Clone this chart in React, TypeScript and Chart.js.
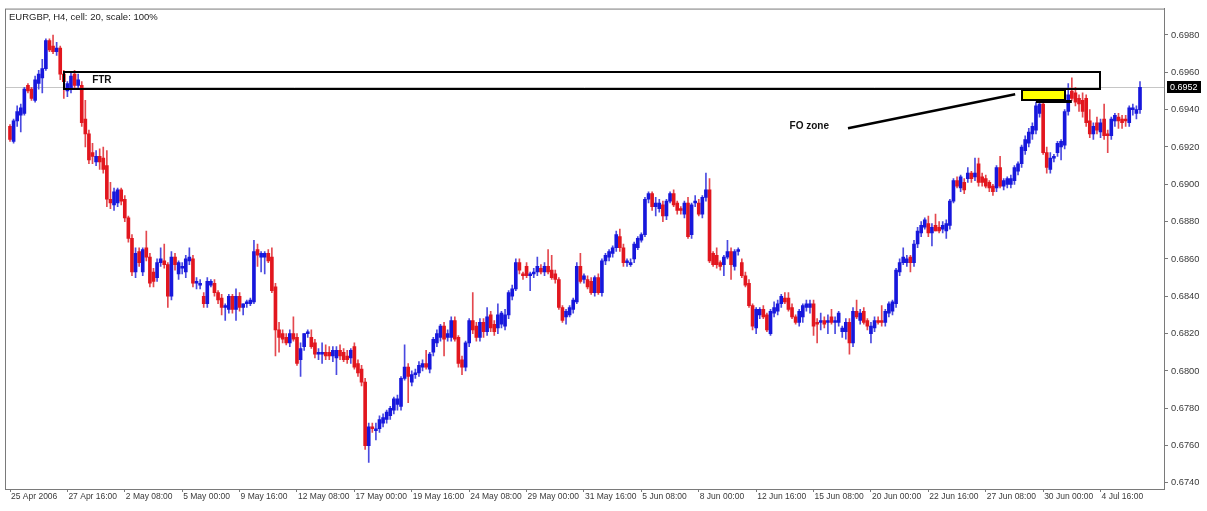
import React, { useEffect, useRef } from "react";
import { Chart, registerables } from "chart.js";

Chart.register(...registerables);

// ---------- data (EURGBP, H4) ----------
const xTickIndices = [0, 16, 32, 48, 64, 80, 96, 112, 128, 144, 160, 176, 192, 208, 224, 240, 256, 272, 288, 304];
const xTickLabels = [
  "25 Apr 2006", "27 Apr 16:00", "2 May 08:00", "5 May 00:00", "9 May 16:00",
  "12 May 08:00", "17 May 00:00", "19 May 16:00", "24 May 08:00", "29 May 00:00",
  "31 May 16:00", "5 Jun 08:00", "8 Jun 00:00", "12 Jun 16:00", "15 Jun 08:00",
  "20 Jun 00:00", "22 Jun 16:00", "27 Jun 08:00", "30 Jun 00:00", "4 Jul 16:00",
];
const yTickValues = [0.674, 0.676, 0.678, 0.68, 0.682, 0.684, 0.686, 0.688, 0.69, 0.692, 0.694, 0.696, 0.698];

const opens = [
  0.6931,0.6923,0.6934,0.6937,0.6938,0.6953,0.6951,0.6945,0.6954,0.6957,
  0.6962,0.6977,0.6974,0.6971,0.6973,0.6959,0.6950,0.6951,0.6959,0.6953,
  0.6953,0.6935,0.6927,0.6917,0.6912,0.6915,0.6914,0.6910,0.6892,0.6889,
  0.6890,0.6897,0.6892,0.6882,0.6871,0.6853,0.6864,0.6853,0.6866,0.6861,
  0.6853,0.6850,0.6858,0.6859,0.6857,0.6840,0.6861,0.6852,0.6855,0.6853,
  0.6859,0.6860,0.6847,0.6846,0.6840,0.6836,0.6846,0.6847,0.6842,0.6839,
  0.6834,0.6833,0.6840,0.6833,0.6840,0.6834,0.6836,0.6836,0.6837,0.6865,
  0.6861,0.6861,0.6863,0.6861,0.6845,0.6822,0.6820,0.6818,0.6815,0.6820,
  0.6818,0.6806,0.6813,0.6820,0.6818,0.6815,0.6809,0.6809,0.6810,0.6810,
  0.6808,0.6807,0.6811,0.6810,0.6808,0.6807,0.6813,0.6804,0.6801,0.6794,
  0.6760,0.6770,0.6768,0.6769,0.6772,0.6774,0.6776,0.6779,0.6782,0.6781,
  0.6796,0.6802,0.6794,0.6798,0.6799,0.6802,0.6804,0.6801,0.6810,0.6815,
  0.6818,0.6824,0.6818,0.6818,0.6827,0.6818,0.6806,0.6802,0.6815,0.6827,
  0.6824,0.6818,0.6826,0.6821,0.6830,0.6825,0.6823,0.6825,0.6824,0.6830,
  0.6840,0.6844,0.6858,0.6852,0.6856,0.6851,0.6852,0.6853,0.6855,0.6853,
  0.6856,0.6854,0.6852,0.6849,0.6834,0.6829,0.6830,0.6833,0.6837,0.6856,
  0.6849,0.6849,0.6848,0.6842,0.6850,0.6842,0.6859,0.6861,0.6863,0.6866,
  0.6872,0.6866,0.6858,0.6857,0.6860,0.6866,0.6870,0.6873,0.6892,0.6895,
  0.6888,0.6887,0.6889,0.6883,0.6891,0.6895,0.6890,0.6887,0.6884,0.6890,
  0.6873,0.6890,0.6890,0.6884,0.6893,0.6897,0.6863,0.6862,0.6858,0.6857,
  0.6861,0.6864,0.6856,0.6864,0.6858,0.6851,0.6847,0.6835,0.6823,0.6830,
  0.6833,0.6830,0.6820,0.6831,0.6832,0.6836,0.6839,0.6839,0.6834,0.6829,
  0.6826,0.6829,0.6834,0.6834,0.6836,0.6826,0.6826,0.6827,0.6826,0.6829,0.6826,0.6826,0.6821,0.6821,0.6826,0.6815,0.6832,
  0.6827,0.6832,0.6827,0.6820,0.6823,0.6827,0.6827,0.6826,0.6831,0.6832,0.6836,0.6853,0.6858,0.6858,0.6861,0.6858,0.6868,0.6874,0.6877,
  0.6879,0.6874,0.6878,0.6877,0.6876,0.6875,0.6878,0.6891,0.6902,0.6898,0.6901,0.6903,0.6906,0.6904,0.6911,0.6904,0.6903,0.6901,0.6899,
  0.6898,0.6909,0.6899,0.6900,0.6900,0.6902,0.6907,0.6911,0.6918,0.6922,0.6927,0.6929,0.6938,0.6943,0.6917,0.6908,0.6914,0.6917,0.6920,
  0.6921,0.6939,0.6950,0.6949,0.6946,0.6945,0.6946,0.6934,0.6927,0.6933,0.6928,0.6935,0.6927,0.6926,0.6934,0.6936,0.6935,0.6935,0.6933,0.6940,0.6938,0.6940,
];

const highs = [
  0.6932,0.6935,0.6942,0.6943,0.6952,0.6954,0.6952,0.6958,0.6961,0.6967,
  0.6978,0.6978,0.6980,0.6976,0.6974,0.6961,0.6955,0.6960,0.6961,0.6959,
  0.6955,0.6945,0.6929,0.6922,0.6918,0.6919,0.6920,0.6918,0.6901,0.6898,
  0.6898,0.6898,0.6894,0.6883,0.6873,0.6866,0.6866,0.6866,0.6875,0.6863,
  0.6855,0.6860,0.6866,0.6868,0.6858,0.6864,0.6863,0.6859,0.6858,0.6862,
  0.6866,0.6862,0.6850,0.6849,0.6842,0.6850,0.6849,0.6849,0.6843,0.6841,
  0.6836,0.6841,0.6841,0.6844,0.6842,0.6836,0.6838,0.6839,0.6870,0.6868,
  0.6864,0.6864,0.6865,0.6866,0.6847,0.6826,0.6822,0.6820,0.6822,0.6829,
  0.6820,0.6815,0.6820,0.6822,0.6822,0.6817,0.6812,0.6815,0.6814,0.6813,
  0.6813,0.6813,0.6814,0.6812,0.6811,0.6812,0.6815,0.6806,0.6803,0.6796,
  0.6772,0.6772,0.6772,0.6776,0.6777,0.6779,0.6781,0.6786,0.6787,0.6797,
  0.6814,0.6804,0.6800,0.6801,0.6805,0.6806,0.6811,0.6810,0.6818,0.6822,
  0.6825,0.6826,0.6822,0.6829,0.6829,0.6819,0.6808,0.6816,0.6828,0.6842,
  0.6826,0.6828,0.6828,0.6834,0.6832,0.6827,0.6836,0.6832,0.6833,0.6843,
  0.6846,0.6860,0.6860,0.6853,0.6858,0.6853,0.6855,0.6861,0.6857,0.6858,
  0.6865,0.6862,0.6854,0.6850,0.6835,0.6833,0.6835,0.6839,0.6858,0.6863,
  0.6852,0.6851,0.6850,0.6851,0.6852,0.6860,0.6863,0.6865,0.6867,0.6875,
  0.6876,0.6868,0.6860,0.6860,0.6869,0.6872,0.6874,0.6893,0.6896,0.6896,
  0.6893,0.6892,0.6891,0.6892,0.6896,0.6897,0.6891,0.6888,0.6891,0.6893,
  0.6890,0.6894,0.6892,0.6894,0.6906,0.6903,0.6864,0.6866,0.6859,0.6862,
  0.6870,0.6866,0.6865,0.6866,0.6860,0.6853,0.6849,0.6836,0.6834,0.6834,
  0.6835,0.6831,0.6833,0.6837,0.6838,0.6841,0.6842,0.6842,0.6836,0.6830,
  0.6833,0.6836,0.6838,0.6838,0.6838,0.6828,0.6831,0.6829,0.6830,0.6833,0.6829,0.6832,0.6824,0.6828,0.6828,0.6834,0.6838,
  0.6833,0.6834,0.6828,0.6826,0.6829,0.6829,0.6835,0.6833,0.6837,0.6838,0.6855,0.6860,0.6866,0.6862,0.6862,0.6870,0.6877,0.6880,0.6882,
  0.6883,0.6879,0.6884,0.6880,0.6880,0.6881,0.6892,0.6903,0.6904,0.6905,0.6903,0.6909,0.6907,0.6914,0.6914,0.6906,0.6905,0.6902,0.6900,
  0.6910,0.6915,0.6903,0.6904,0.6905,0.6910,0.6912,0.6921,0.6926,0.6930,0.6933,0.6944,0.6946,0.6945,0.6920,0.6917,0.6916,0.6923,0.6924,
  0.6940,0.6954,0.6957,0.6952,0.6948,0.6949,0.6948,0.6940,0.6933,0.6936,0.6935,0.6943,0.6929,0.6936,0.6938,0.6938,0.6937,0.6937,0.6942,0.6943,0.6942,0.6955,
];

const lows = [
  0.6923,0.6922,0.6931,0.6928,0.6937,0.6949,0.6945,0.6944,0.6951,0.6949,
  0.6961,0.6971,0.6970,0.6969,0.6956,0.6946,0.6947,0.6949,0.6951,0.6951,
  0.6931,0.6920,0.6911,0.6911,0.6910,0.6908,0.6906,0.6888,0.6887,0.6886,
  0.6888,0.6889,0.6880,0.6869,0.6851,0.6850,0.6856,0.6851,0.6859,0.6845,
  0.6845,0.6848,0.6856,0.6855,0.6834,0.6838,0.6854,0.6849,0.6852,0.6850,
  0.6857,0.6845,0.6844,0.6844,0.6834,0.6834,0.6845,0.6840,0.6836,0.6830,
  0.6827,0.6831,0.6831,0.6827,0.6832,0.6830,0.6834,0.6835,0.6836,0.6856,
  0.6853,0.6852,0.6858,0.6842,0.6808,0.6810,0.6815,0.6814,0.6813,0.6816,
  0.6803,0.6797,0.6811,0.6818,0.6812,0.6807,0.6806,0.6804,0.6806,0.6806,
  0.6805,0.6798,0.6806,0.6805,0.6804,0.6804,0.6801,0.6797,0.6792,0.6758,
  0.6751,0.6767,0.6763,0.6767,0.6770,0.6772,0.6774,0.6777,0.6779,0.6779,
  0.6795,0.6783,0.6792,0.6796,0.6797,0.6800,0.6801,0.6799,0.6808,0.6813,
  0.6816,0.6808,0.6816,0.6816,0.6816,0.6802,0.6798,0.6800,0.6813,0.6820,
  0.6816,0.6816,0.6818,0.6819,0.6821,0.6819,0.6820,0.6823,0.6822,0.6828,
  0.6838,0.6843,0.6852,0.6849,0.6850,0.6843,0.6850,0.6851,0.6852,0.6851,
  0.6852,0.6849,0.6847,0.6833,0.6826,0.6825,0.6829,0.6831,0.6836,0.6847,
  0.6847,0.6844,0.6841,0.6840,0.6841,0.6840,0.6857,0.6859,0.6861,0.6864,
  0.6864,0.6856,0.6856,0.6856,0.6858,0.6865,0.6869,0.6872,0.6890,0.6886,
  0.6883,0.6885,0.6880,0.6881,0.6890,0.6888,0.6884,0.6884,0.6882,0.6871,
  0.6871,0.6888,0.6883,0.6882,0.6891,0.6858,0.6856,0.6855,0.6854,0.6851,
  0.6860,0.6849,0.6854,0.6862,0.6850,0.6845,0.6834,0.6822,0.6820,0.6828,
  0.6828,0.6821,0.6819,0.6829,0.6830,0.6834,0.6836,0.6832,0.6828,0.6825,
  0.6824,0.6826,0.6832,0.6831,0.6819,0.6815,0.6822,0.6823,0.6820,0.6825,0.6820,0.6824,0.6818,0.6817,0.6809,0.6813,0.6828,
  0.6825,0.6825,0.6822,0.6815,0.6821,0.6825,0.6824,0.6824,0.6829,0.6830,0.6834,0.6851,0.6857,0.6856,0.6853,0.6856,0.6866,0.6872,0.6876,
  0.6872,0.6867,0.6875,0.6874,0.6874,0.6871,0.6876,0.6890,0.6898,0.6896,0.6895,0.6901,0.6901,0.6902,0.6899,0.6899,0.6898,0.6896,0.6894,
  0.6896,0.6898,0.6897,0.6898,0.6898,0.6900,0.6905,0.6909,0.6916,0.6920,0.6924,0.6927,0.6936,0.6916,0.6906,0.6906,0.6912,0.6915,0.6913,
  0.6919,0.6937,0.6945,0.6942,0.6939,0.6936,0.6931,0.6925,0.6924,0.6927,0.6925,0.6924,0.6917,0.6924,0.6931,0.6930,0.6930,0.6931,0.6931,0.6937,0.6935,0.6938,
];

const closes = [
  0.6924,0.6934,0.6939,0.6941,0.6951,0.6950,0.6946,0.6956,0.6959,0.6962,
  0.6977,0.6972,0.6971,0.6973,0.6959,0.6955,0.6954,0.6958,0.6953,0.6956,
  0.6933,0.6927,0.6913,0.6915,0.6915,0.6912,0.6908,0.6892,0.6890,0.6896,
  0.6897,0.6891,0.6882,0.6871,0.6853,0.6863,0.6858,0.6865,0.6861,0.6847,
  0.6848,0.6858,0.6860,0.6857,0.6840,0.6861,0.6857,0.6858,0.6856,0.6860,
  0.6861,0.6847,0.6848,0.6847,0.6836,0.6848,0.6848,0.6842,0.6838,0.6834,
  0.6835,0.6840,0.6833,0.6840,0.6834,0.6836,0.6837,0.6838,0.6864,0.6862,
  0.6863,0.6863,0.6859,0.6843,0.6822,0.6818,0.6817,0.6815,0.6820,0.6817,
  0.6804,0.6812,0.6820,0.6821,0.6813,0.6809,0.6810,0.6810,0.6808,0.6808,
  0.6811,0.6811,0.6808,0.6806,0.6806,0.6811,0.6802,0.6799,0.6794,0.6760,
  0.6770,0.6769,0.6769,0.6774,0.6775,0.6778,0.6780,0.6785,0.6785,0.6796,
  0.6802,0.6797,0.6798,0.6799,0.6803,0.6804,0.6802,0.6809,0.6817,0.6820,
  0.6824,0.6817,0.6820,0.6827,0.6817,0.6804,0.6802,0.6815,0.6827,0.6822,
  0.6818,0.6826,0.6821,0.6829,0.6823,0.6821,0.6830,0.6831,0.6830,0.6842,
  0.6844,0.6858,0.6854,0.6851,0.6851,0.6852,0.6853,0.6856,0.6853,0.6856,
  0.6853,0.6850,0.6849,0.6834,0.6827,0.6832,0.6834,0.6838,0.6856,0.6848,
  0.6851,0.6845,0.6842,0.6850,0.6842,0.6859,0.6862,0.6864,0.6866,0.6873,
  0.6866,0.6858,0.6859,0.6858,0.6868,0.6871,0.6873,0.6892,0.6895,0.6888,
  0.6890,0.6890,0.6883,0.6891,0.6895,0.6889,0.6886,0.6886,0.6890,0.6872,
  0.6889,0.6891,0.6884,0.6893,0.6897,0.6859,0.6857,0.6857,0.6856,0.6861,
  0.6864,0.6857,0.6864,0.6865,0.6851,0.6846,0.6835,0.6824,0.6833,0.6833,
  0.6829,0.6822,0.6832,0.6834,0.6836,0.6840,0.6837,0.6833,0.6829,0.6826,
  0.6832,0.6835,0.6836,0.6836,0.6824,0.6825,0.6827,0.6825,0.6827,0.6826,0.6827,0.6831,0.6823,0.6826,0.6815,0.6832,0.6829,
  0.6831,0.6826,0.6824,0.6824,0.6827,0.6826,0.6826,0.6832,0.6836,0.6837,0.6854,0.6858,0.6861,0.6860,0.6858,0.6868,0.6875,0.6878,0.6881,
  0.6874,0.6877,0.6875,0.6875,0.6878,0.6879,0.6891,0.6902,0.6899,0.6904,0.6897,0.6906,0.6903,0.6906,0.6901,0.6901,0.6899,0.6898,0.6896,
  0.6909,0.6899,0.6902,0.6903,0.6903,0.6909,0.6911,0.6920,0.6924,0.6928,0.6931,0.6942,0.6943,0.6917,0.6909,0.6914,0.6915,0.6922,0.6923,
  0.6939,0.6948,0.6946,0.6944,0.6943,0.6939,0.6933,0.6927,0.6931,0.6929,0.6933,0.6926,0.6926,0.6935,0.6937,0.6934,0.6933,0.6934,0.6941,0.6941,0.6940,0.6952,
];

const lastPrice = 0.6952;
const titleText = "EURGBP, H4, cell: 20, scale: 100%";

// annotations, in (bar index, price) coordinates
const ftrBox = { from: 15.05, to: 303.9, top: 0.69601, bottom: 0.69511 };
const ftrLabel = { text: "FTR", at: 22.9, price: 0.69556 };
const foBox = { from: 282.1, to: 294.1, top: 0.69505, bottom: 0.69452 };
const foBase = { from: 286, to: 296, price: 0.69443 };
const foPointer = { x0: 233.6, p0: 0.69300, x1: 280.2, p1: 0.69482 };
const foLabel = { text: "FO zone", at: 228.3, price: 0.69312 };

// ---------- styles / layout ----------
const BULL = "#1717dc";
const BEAR = "#e2161e";
const BULL_WICK = "#4a4ae0";
const BEAR_WICK = "#e4484e";
const FRAME = "#7a7a7a";
const FONT = '"Liberation Sans", Arial, sans-serif';
const X_MIN = -1.394;
const X_MAX = 321.69;
const Y_MAX = 0.699415;
const Y_MIN = 0.673674;

const overlayPlugin = {
  id: "overlay",
  beforeDatasetsDraw(chart: any) {
    const { ctx, chartArea: a, scales } = chart;
    const py = Math.round(scales.y.getPixelForValue(lastPrice)) + 0.5;
    ctx.save();
    ctx.strokeStyle = "#c6c6c6";
    ctx.lineWidth = 1;
    ctx.beginPath();
    ctx.moveTo(a.left, py);
    ctx.lineTo(a.right, py);
    ctx.stroke();
    ctx.restore();
  },
  afterDatasetsDraw(chart: any) {
    const { ctx } = chart;
    const x = chart.scales.x;
    const y = chart.scales.y;
    ctx.save();
    // FTR zone
    const fx0 = Math.round(x.getPixelForValue(ftrBox.from));
    const fx1 = Math.round(x.getPixelForValue(ftrBox.to));
    const fy0 = Math.round(y.getPixelForValue(ftrBox.top));
    const fy1 = Math.round(y.getPixelForValue(ftrBox.bottom));
    ctx.strokeStyle = "#000";
    ctx.lineWidth = 2;
    ctx.strokeRect(fx0, fy0, fx1 - fx0, fy1 - fy0);
    ctx.fillStyle = "#111";
    ctx.font = "bold 10px " + FONT;
    ctx.textBaseline = "middle";
    ctx.textAlign = "left";
    ctx.fillText(ftrLabel.text, x.getPixelForValue(ftrLabel.at), y.getPixelForValue(ftrLabel.price));
    // FO zone box
    const bx0 = Math.round(x.getPixelForValue(foBox.from));
    const bx1 = Math.round(x.getPixelForValue(foBox.to));
    const by0 = Math.round(y.getPixelForValue(foBox.top));
    const by1 = Math.round(y.getPixelForValue(foBox.bottom));
    ctx.fillStyle = "#ffff00";
    ctx.fillRect(bx0, by0, bx1 - bx0, by1 - by0);
    ctx.strokeRect(bx0, by0, bx1 - bx0, by1 - by0);
    // base line under the box
    ctx.lineWidth = 3;
    ctx.beginPath();
    const ly = y.getPixelForValue(foBase.price);
    ctx.moveTo(x.getPixelForValue(foBase.from), ly);
    ctx.lineTo(x.getPixelForValue(foBase.to), ly);
    ctx.stroke();
    // pointer
    ctx.lineWidth = 2.5;
    ctx.beginPath();
    ctx.moveTo(x.getPixelForValue(foPointer.x0), y.getPixelForValue(foPointer.p0));
    ctx.lineTo(x.getPixelForValue(foPointer.x1), y.getPixelForValue(foPointer.p1));
    ctx.stroke();
    // label
    ctx.fillStyle = "#111";
    ctx.font = "bold 10px " + FONT;
    ctx.textAlign = "right";
    ctx.fillText(foLabel.text, x.getPixelForValue(foLabel.at), y.getPixelForValue(foLabel.price));
    ctx.restore();
  },
  afterDraw(chart: any) {
    const { ctx, chartArea: a } = chart;
    const y = chart.scales.y;
    ctx.save();
    ctx.strokeStyle = FRAME;
    ctx.lineWidth = 1;
    ctx.strokeRect(a.left + 0.5, a.top + 0.5, a.right - a.left, a.bottom - a.top);
    // title
    ctx.fillStyle = "#222";
    ctx.font = "9.5px " + FONT;
    ctx.textAlign = "left";
    ctx.textBaseline = "middle";
    ctx.fillText(titleText, a.left + 4, a.top + 9);
    // last price label
    const py = Math.round(y.getPixelForValue(lastPrice));
    ctx.fillStyle = "#000";
    ctx.fillRect(a.right + 3, py - 6, 34, 12);
    ctx.fillStyle = "#fff";
    ctx.font = "9px " + FONT;
    ctx.fillText(lastPrice.toFixed(4), a.right + 6, py + 0.5);
    ctx.restore();
  },
};

export default function App() {
  const ref = useRef<HTMLCanvasElement | null>(null);
  useEffect(() => {
    if (!ref.current) return;
    const isBull = opens.map((o, i) => closes[i] >= o);
    const bodyColors = isBull.map((b) => (b ? BULL : BEAR));
    const wickColors = isBull.map((b) => (b ? BULL_WICK : BEAR_WICK));
    const bodies = opens.map((o, i) => ({ x: i, y: [o, closes[i]] }));
    const wicks = lows.map((l, i) => ({ x: i, y: [l, highs[i]] }));
    const chart = new Chart(ref.current, {
      type: "bar",
      data: {
        datasets: [
          {
            label: "body",
            data: bodies as any,
            backgroundColor: bodyColors,
            barThickness: 3,
            minBarLength: 1,
            grouped: false,
            order: 0,
          } as any,
          {
            label: "wick",
            data: wicks as any,
            backgroundColor: wickColors,
            barThickness: 1,
            grouped: false,
            order: 1,
          } as any,
        ],
      },
      plugins: [overlayPlugin],
      options: {
        animation: false,
        responsive: false,
        events: [],
        layout: { padding: { left: 5, top: 7, right: 0, bottom: 0 } },
        plugins: { legend: { display: false }, tooltip: { enabled: false }, title: { display: false } },
        scales: {
          x: {
            type: "linear",
            position: "bottom",
            offset: false,
            min: X_MIN,
            max: X_MAX,
            grid: { display: true, offset: false, drawOnChartArea: false, drawTicks: true, tickLength: 3, color: FRAME, tickColor: FRAME },
            border: { display: true, color: FRAME },
            ticks: {
              autoSkip: false,
              maxRotation: 0,
              minRotation: 0,
              align: "start",
              labelOffset: 1,
              padding: 0,
              color: "#3a3a3a",
              font: { family: FONT, size: 8.5 },
              callback: (_v: any, i: number) => xTickLabels[i],
            },
            afterBuildTicks: (s: any) => {
              s.ticks = xTickIndices.map((v) => ({ value: v }));
            },
            afterFit: (s: any) => {
              s.height = 22;
            },
          } as any,
          y: {
            type: "linear",
            position: "right",
            min: Y_MIN,
            max: Y_MAX,
            grid: { display: true, drawOnChartArea: false, drawTicks: true, tickLength: 4, color: FRAME, tickColor: FRAME },
            border: { display: true, color: FRAME },
            ticks: {
              padding: 3,
              color: "#3a3a3a",
              font: { family: FONT, size: 9.3 },
              callback: (v: any) => Number(v).toFixed(4),
            },
            afterBuildTicks: (s: any) => {
              s.ticks = yTickValues.map((v) => ({ value: v }));
            },
            afterFit: (s: any) => {
              s.width = 43;
            },
          } as any,
        },
      },
    });
    return () => chart.destroy();
  }, []);

  return (
    <div style={{ position: "fixed", left: 0, top: 0, width: 1207, height: 511, background: "#fff" }}>
      <canvas ref={ref} width={1207} height={511} style={{ width: 1207, height: 511, display: "block" }} />
    </div>
  );
}
